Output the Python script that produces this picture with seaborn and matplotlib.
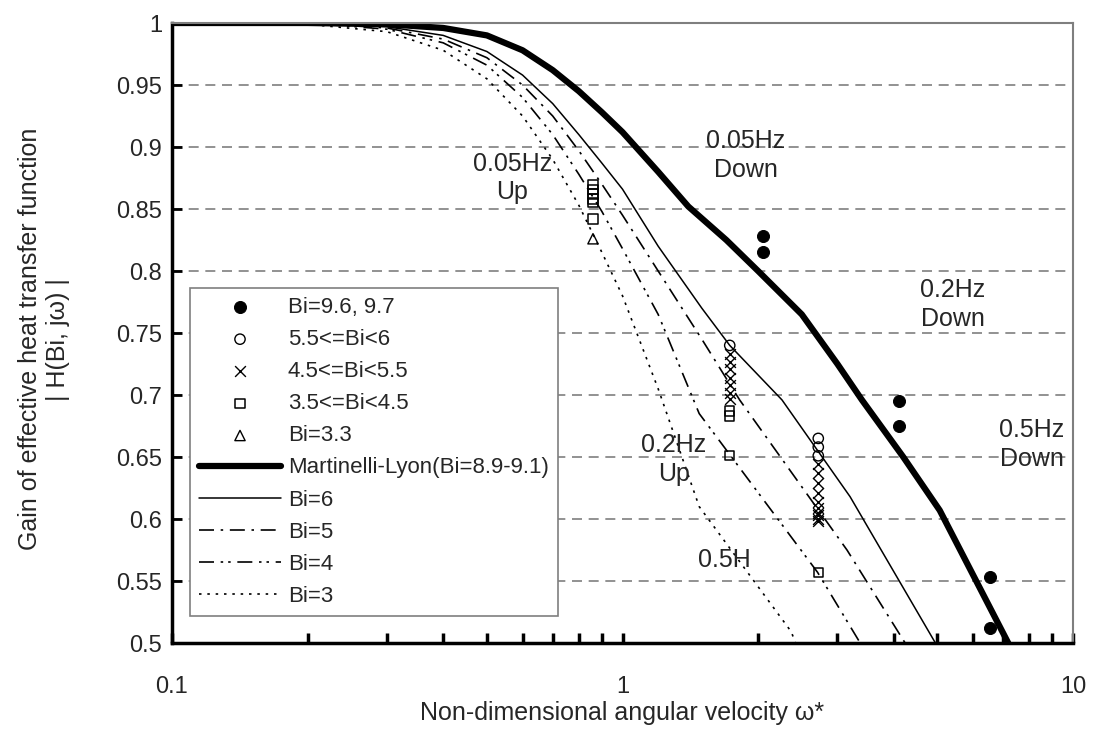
import numpy as np
import pandas as pd
import matplotlib
matplotlib.use("Agg")
import matplotlib.pyplot as plt
import seaborn as sns

# ---------------- data ----------------
# measured points
bi96_x = [2.05, 2.05, 4.1, 4.1, 6.55, 6.55]
bi96_y = [0.828, 0.815, 0.695, 0.675, 0.553, 0.512]

bi55_x = [1.73, 2.72, 2.72, 2.72]
bi55_y = [0.740, 0.665, 0.658, 0.651]

bi45_x = [1.73] * 7 + [2.72] * 10
bi45_y = [0.733, 0.727, 0.721, 0.714, 0.708, 0.702, 0.697,
          0.644, 0.637, 0.629, 0.621, 0.614, 0.609, 0.605, 0.603, 0.600, 0.598]

bi35_x = [0.86] * 6 + [1.73] * 3 + [2.72]
bi35_y = [0.870, 0.866, 0.862, 0.858, 0.855, 0.842, 0.687, 0.683, 0.651, 0.557]

bi33_x = [0.86]
bi33_y = [0.826]

# model curves
ml_x = [0.1, 0.2, 0.3, 0.4, 0.5, 0.6, 0.7, 0.8, 0.9, 1.0, 1.2, 1.4, 1.7, 2.0, 2.5, 3.0, 3.4, 4.2, 5.06, 7.3]
ml_y = [1.0, 1.0, 0.999, 0.996, 0.99, 0.978, 0.962, 0.945, 0.928, 0.912, 0.88, 0.852, 0.825, 0.80, 0.765, 0.725, 0.696, 0.65, 0.607, 0.495]

b6_x = [0.1, 0.2, 0.3, 0.4, 0.5, 0.6, 0.7, 0.8, 0.9, 1.0, 1.2, 1.5, 1.73, 2.26, 3.2, 4.95]
b6_y = [1.0, 1.0, 0.997, 0.99, 0.977, 0.958, 0.935, 0.91, 0.887, 0.866, 0.82, 0.77, 0.74, 0.696, 0.618, 0.5]

b5_x = [0.1, 0.2, 0.3, 0.4, 0.5, 0.6, 0.7, 0.8, 0.9, 1.0, 1.2, 1.5, 1.82, 3.15, 4.24]
b5_y = [1.0, 1.0, 0.996, 0.987, 0.972, 0.95, 0.925, 0.897, 0.87, 0.845, 0.80, 0.745, 0.696, 0.575, 0.5]

b4_x = [0.1, 0.2, 0.3, 0.4, 0.5, 0.6, 0.7, 0.8, 0.9, 1.0, 1.2, 1.48, 2.71, 3.37]
b4_y = [1.0, 1.0, 0.995, 0.984, 0.966, 0.94, 0.91, 0.878, 0.848, 0.818, 0.765, 0.685, 0.557, 0.5]

b3_x = [0.1, 0.2, 0.3, 0.4, 0.5, 0.6, 0.7, 0.8, 0.9, 1.0, 1.2, 1.48, 2.37, 2.42]
b3_y = [1.0, 0.999, 0.993, 0.978, 0.955, 0.925, 0.89, 0.853, 0.815, 0.78, 0.705, 0.61, 0.509, 0.5]

y_ticks = [0.5, 0.55, 0.6, 0.65, 0.7, 0.75, 0.8, 0.85, 0.9, 0.95, 1.0]
y_tick_labels = ["0.5", "0.55", "0.6", "0.65", "0.7", "0.75", "0.8", "0.85", "0.9", "0.95", "1"]
x_ticks = [0.1, 1, 10]
x_tick_labels = ["0.1", "1", "10"]

annotations = [
    ("0.05Hz\nUp", 0.57, 0.875),
    ("0.05Hz\nDown", 1.88, 0.893),
    ("0.2Hz\nDown", 5.4, 0.773),
    ("0.5Hz\nDown", 8.1, 0.66),
    ("0.2Hz\nUp", 1.3, 0.648),
]

# ---------------- style ----------------
sns.set_theme(style="white")
plt.rcParams["font.family"] = ["Liberation Sans", "DejaVu Sans"]

fig = plt.figure(figsize=(10.96, 7.40), dpi=100)
ax = fig.add_axes([172 / 1096, 1 - 643 / 740, (1073 - 172) / 1096, (643 - 23) / 740])

FS_TICK = 17
FS_LAB = 18
FS_ANN = 18
FS_LEG = 16

# curves
sns.lineplot(x=ml_x, y=ml_y, ax=ax, color="black", lw=4.5, label="Martinelli-Lyon(Bi=8.9-9.1)",
             sort=False, estimator=None)
sns.lineplot(x=b6_x, y=b6_y, ax=ax, color="black", lw=1.1, label="Bi=6", sort=False, estimator=None)
sns.lineplot(x=b5_x, y=b5_y, ax=ax, color="black", lw=1.2, label="Bi=5", sort=False, estimator=None,
             linestyle=(0, (9, 4, 1.5, 4)))
sns.lineplot(x=b4_x, y=b4_y, ax=ax, color="black", lw=1.2, label="Bi=4", sort=False, estimator=None,
             linestyle=(0, (9, 4, 1.5, 3, 1.5, 4)))
sns.lineplot(x=b3_x, y=b3_y, ax=ax, color="black", lw=1.2, label="Bi=3", sort=False, estimator=None,
             linestyle=(0, (1.5, 3.5)))

# markers
sns.scatterplot(x=bi96_x, y=bi96_y, ax=ax, marker="o", s=75, color="black", edgecolor="black",
                label="Bi=9.6, 9.7", zorder=5)
sns.scatterplot(x=bi55_x, y=bi55_y, ax=ax, marker="o", s=55, facecolor="none", edgecolor="black",
                linewidth=1.0, label="5.5<=Bi<6", zorder=5)
sns.scatterplot(x=bi45_x, y=bi45_y, ax=ax, marker="x", s=60, color="black", linewidth=1.0,
                label="4.5<=Bi<5.5", zorder=5)
sns.scatterplot(x=bi35_x, y=bi35_y, ax=ax, marker="s", s=45, facecolor="none", edgecolor="black",
                linewidth=1.1, label="3.5<=Bi<4.5", zorder=5)
sns.scatterplot(x=bi33_x, y=bi33_y, ax=ax, marker="^", s=55, facecolor="none", edgecolor="black",
                linewidth=1.0, label="Bi=3.3", zorder=5)

ax.set_xscale("log")
ax.set_xlim(0.1, 10)
ax.set_ylim(0.5, 1.0)

ax.set_yticks(y_ticks)
ax.set_yticklabels(y_tick_labels, fontsize=FS_TICK)
ax.set_xticks(x_ticks)
ax.set_xticklabels(x_tick_labels, fontsize=FS_TICK)
ax.xaxis.set_minor_locator(matplotlib.ticker.LogLocator(base=10, subs=np.arange(2, 10), numticks=20))
ax.xaxis.set_minor_formatter(matplotlib.ticker.NullFormatter())
ax.tick_params(axis="x", which="both", direction="in", length=7, width=2.5, color="black", pad=24,
               bottom=True, top=False)
ax.tick_params(axis="y", which="major", direction="in", length=7, width=2.0, color="black", pad=7,
               left=True, right=False)

# grid
for yv in y_ticks[1:-1]:
    ax.axhline(yv, color="#7f7f7f", lw=1.2, linestyle=(0, (6, 4)), zorder=0)

# spines
ax.spines["left"].set_color("black")
ax.spines["left"].set_linewidth(2.5)
ax.spines["bottom"].set_color("black")
ax.spines["bottom"].set_linewidth(2.5)
ax.spines["top"].set_color("#7f7f7f")
ax.spines["top"].set_linewidth(1.5)
ax.spines["right"].set_color("#7f7f7f")
ax.spines["right"].set_linewidth(1.5)
for s in ax.spines.values():
    s.set_visible(True)

# annotations
for txt, xv, yv in annotations:
    ax.text(xv, yv, txt, ha="center", va="center", fontsize=FS_ANN, linespacing=1.25, zorder=6)
ax.text(1.47, 0.567, "0.5H", ha="left", va="center", fontsize=FS_ANN)

ax.set_xlabel("Non-dimensional angular velocity ω*", fontsize=FS_LAB, labelpad=2)
ax.set_ylabel("Gain of effective heat transfer function\n| H(Bi, jω) |", fontsize=FS_LAB,
              linespacing=1.2)
ax.yaxis.set_label_coords(-0.113, 0.49)

# legend
handles, labels = ax.get_legend_handles_labels()
order = ["Bi=9.6, 9.7", "5.5<=Bi<6", "4.5<=Bi<5.5", "3.5<=Bi<4.5", "Bi=3.3",
         "Martinelli-Lyon(Bi=8.9-9.1)", "Bi=6", "Bi=5", "Bi=4", "Bi=3"]
hmap = dict(zip(labels, handles))
leg = ax.legend([hmap[l] for l in order], order, loc="upper left",
                bbox_to_anchor=(190 / 1096, 1 - 288 / 740), bbox_transform=fig.transFigure,
                fontsize=FS_LEG, frameon=True, fancybox=False, framealpha=1, edgecolor="#7f7f7f",
                handlelength=3.7, handletextpad=0.3, labelspacing=0.5, borderpad=0.4,
                borderaxespad=0)
leg.get_frame().set_linewidth(1.2)
leg.set_zorder(7)

fig.savefig("out.png", dpi=100)
